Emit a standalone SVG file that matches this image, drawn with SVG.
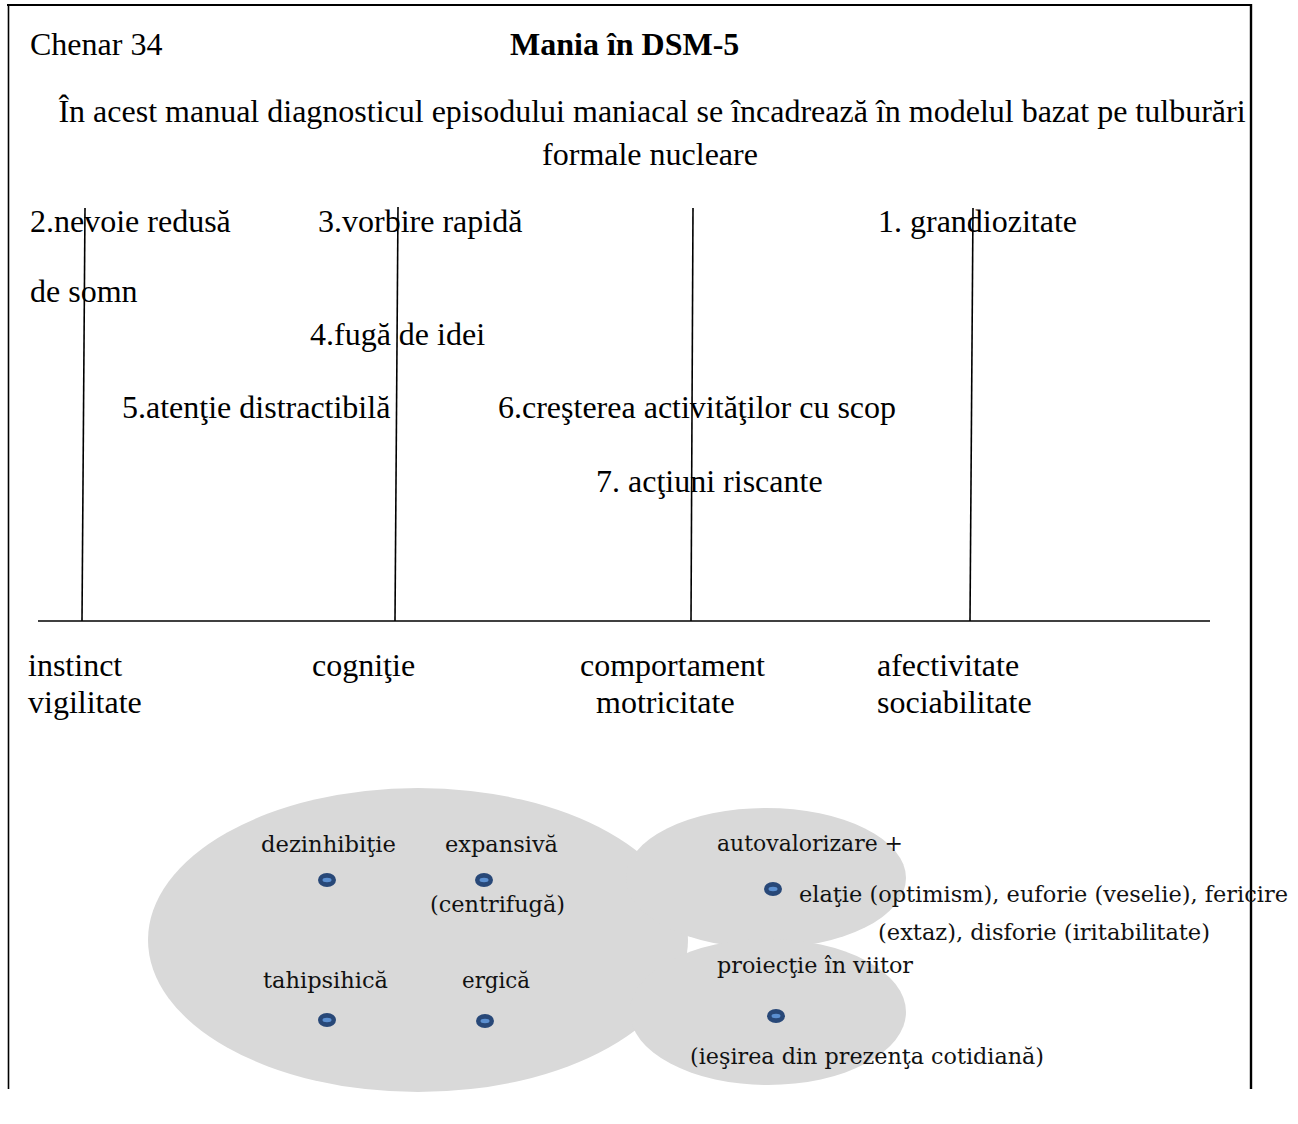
<svg xmlns="http://www.w3.org/2000/svg" width="1298" height="1124" viewBox="0 0 1298 1124">
  <style>
    .t { font-family: "Liberation Serif", "Times New Roman", serif; font-size: 32px; fill: #000; }
    .b { font-weight: bold; }
    .c { font-family: "DejaVu Serif Condensed", "DejaVu Serif", "Liberation Serif", serif; font-size: 23px; fill: #111; }
    .ln { stroke: #000; stroke-width: 1.6; fill: none; }
    .blob { fill: #d9d9d9; }
  </style>
  <defs>
    <g id="dot">
      <ellipse cx="0" cy="0" rx="9" ry="7" fill="#284878"/>
      <ellipse cx="0" cy="0" rx="4.5" ry="2.2" fill="#5b8fd0"/>
    </g>
  </defs>

  <rect width="1298" height="1124" fill="#fff"/>

  <!-- frame -->
  <g id="frame">
    <line x1="7" y1="5" x2="1252" y2="5" stroke="#000" stroke-width="2.2"/>
    <line x1="8.5" y1="4" x2="8.5" y2="1089" stroke="#000" stroke-width="1.6"/>
    <line x1="1251" y1="4" x2="1251" y2="1089" stroke="#000" stroke-width="2.4"/>
  </g>

  <!-- heading -->
  <g id="heading">
    <text class="t" x="30" y="55">Chenar 34</text>
    <text class="t b" x="510" y="55">Mania în DSM-5</text>
    <text class="t" x="652" y="122" text-anchor="middle">În acest manual diagnosticul episodului maniacal se încadrează în modelul bazat pe tulburări</text>
    <text class="t" x="650" y="165" text-anchor="middle">formale nucleare</text>
  </g>

  <!-- axis and domain poles -->
  <g id="connectors">
    <line class="ln" x1="38" y1="621" x2="1210" y2="621" stroke-width="2"/>
    <line class="ln" x1="85" y1="208" x2="82" y2="621"/>
    <line class="ln" x1="398" y1="207" x2="395" y2="621"/>
    <line class="ln" x1="693" y1="208" x2="691" y2="621"/>
    <line class="ln" x1="973" y1="208" x2="970" y2="621"/>
  </g>

  <!-- criteria -->
  <g id="criteria">
    <text class="t" x="30" y="232">2.nevoie redusă</text>
    <text class="t" x="30" y="302">de somn</text>
    <text class="t" x="318" y="232">3.vorbire rapidă</text>
    <text class="t" x="878" y="232">1. grandiozitate</text>
    <text class="t" x="310" y="345">4.fugă de idei</text>
    <text class="t" x="122" y="418">5.atenţie distractibilă</text>
    <text class="t" x="498" y="418">6.creşterea activităţilor cu scop</text>
    <text class="t" x="596" y="492">7. acţiuni riscante</text>
  </g>

  <!-- domains under the axis -->
  <g id="domains">
    <text class="t" x="28" y="676">instinct</text>
    <text class="t" x="28" y="713">vigilitate</text>
    <text class="t" x="312" y="676">cogniţie</text>
    <text class="t" x="580" y="676">comportament</text>
    <text class="t" x="596" y="713">motricitate</text>
    <text class="t" x="877" y="676">afectivitate</text>
    <text class="t" x="877" y="713">sociabilitate</text>
  </g>

  <!-- overlapping clusters -->
  <g id="cluster-left">
    <ellipse class="blob" cx="418" cy="940" rx="270" ry="152"/>
  </g>
  <g id="cluster-top-right">
    <ellipse class="blob" cx="766" cy="878" rx="140" ry="70"/>
  </g>
  <g id="cluster-bottom-right">
    <ellipse class="blob" cx="768" cy="1012" rx="138" ry="73"/>
  </g>

  <g id="cluster-left-labels">
    <text class="c" x="261" y="852" textLength="135" lengthAdjust="spacingAndGlyphs">dezinhibiţie</text>
    <use href="#dot" x="327" y="880"/>
    <text class="c" x="445" y="852" textLength="113" lengthAdjust="spacingAndGlyphs">expansivă</text>
    <use href="#dot" x="484" y="880"/>
    <text class="c" x="430" y="912" textLength="135" lengthAdjust="spacingAndGlyphs">(centrifugă)</text>
    <text class="c" x="263" y="988" textLength="125" lengthAdjust="spacingAndGlyphs">tahipsihică</text>
    <use href="#dot" x="327" y="1020"/>
    <text class="c" x="462" y="988" textLength="68" lengthAdjust="spacingAndGlyphs">ergică</text>
    <use href="#dot" x="485" y="1021"/>
  </g>

  <g id="cluster-top-right-labels">
    <text class="c" x="717" y="851" textLength="186" lengthAdjust="spacingAndGlyphs">autovalorizare +</text>
    <use href="#dot" x="773" y="889"/>
    <text class="c" x="799" y="902" textLength="489" lengthAdjust="spacingAndGlyphs">elaţie (optimism), euforie (veselie), fericire</text>
    <text class="c" x="878" y="940" textLength="332" lengthAdjust="spacingAndGlyphs">(extaz), disforie (iritabilitate)</text>
  </g>

  <g id="cluster-bottom-right-labels">
    <text class="c" x="717" y="973" textLength="196" lengthAdjust="spacingAndGlyphs">proiecţie în viitor</text>
    <use href="#dot" x="776" y="1016"/>
    <text class="c" x="690" y="1064" textLength="354" lengthAdjust="spacingAndGlyphs">(ieşirea din prezenţa cotidiană)</text>
  </g>
</svg>
